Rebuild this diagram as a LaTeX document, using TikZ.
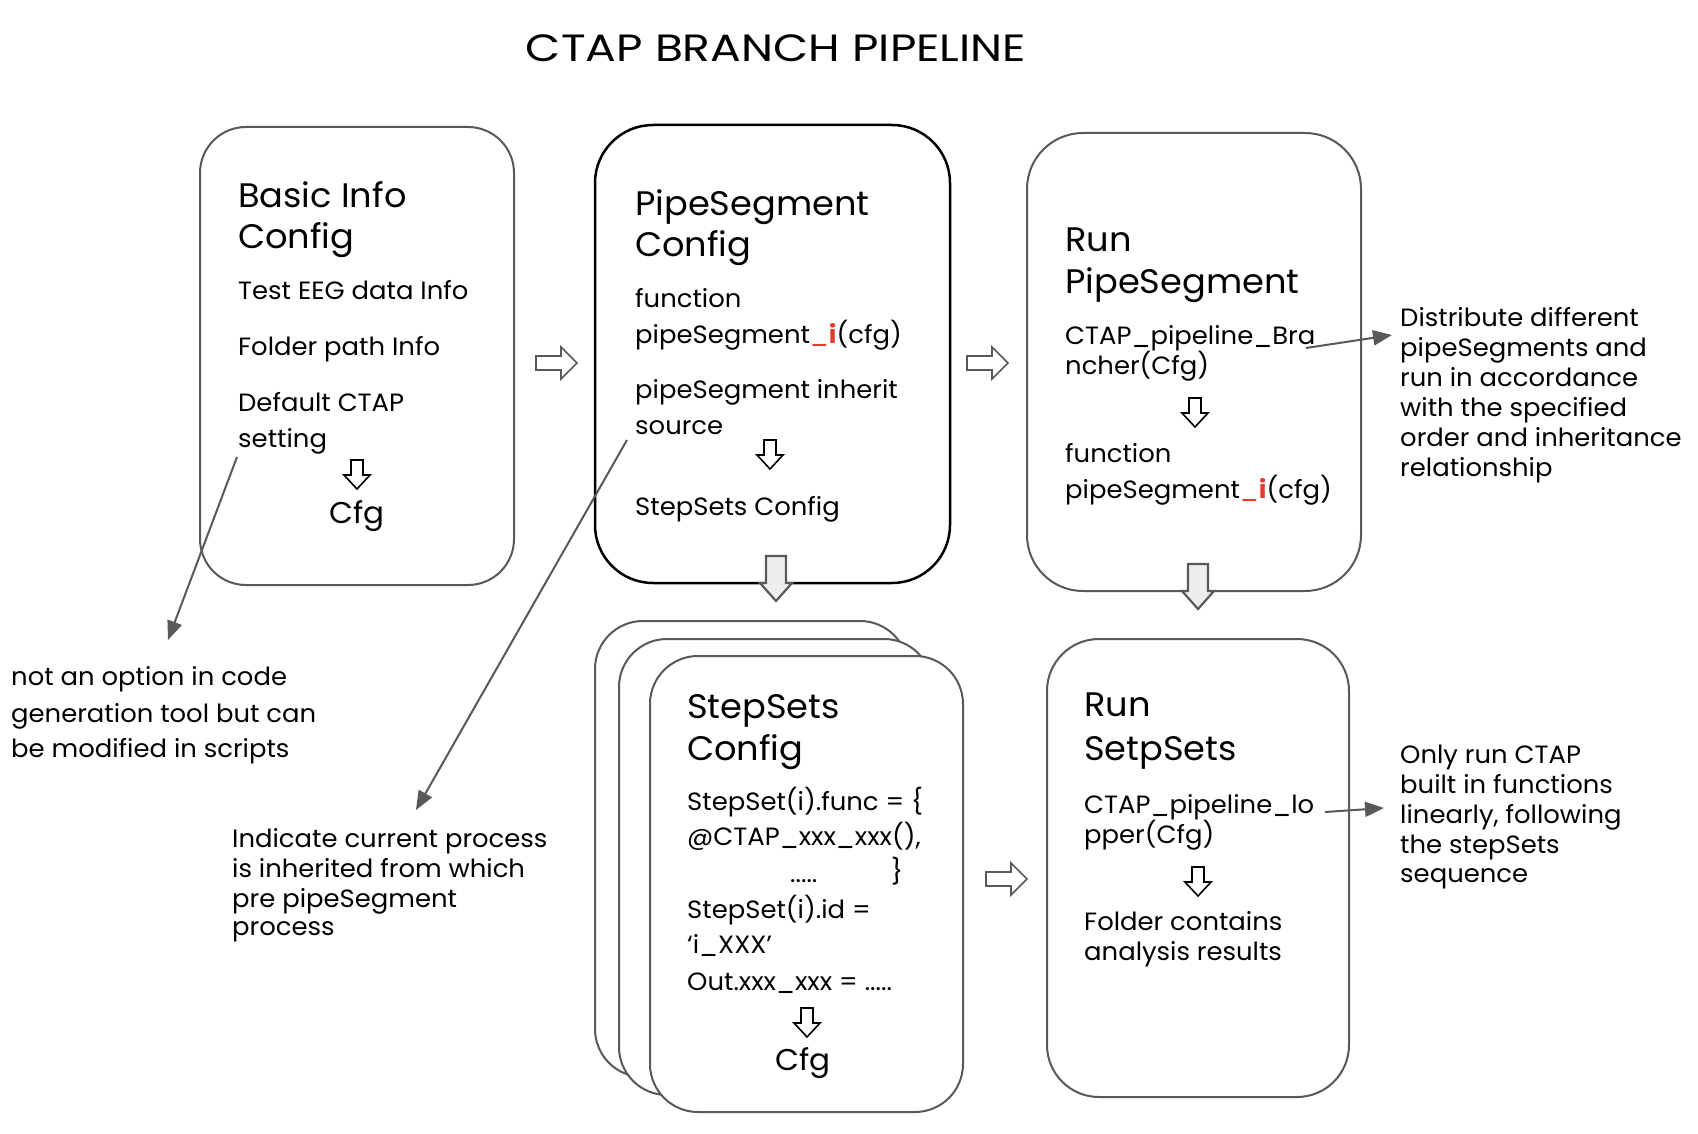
\documentclass[tikz,border=0pt]{standalone}
\usepackage{fontspec}
\setmainfont{Poppins}[FakeStretch=1.035]
\newfontfamily\titlefont{Poppins}[FakeStretch=1.2]
\usetikzlibrary{arrows.meta}
\definecolor{edgegray}{HTML}{595959}
\definecolor{redi}{HTML}{E53A2E}
\definecolor{blockfill}{HTML}{EEEEEE}
\newcommand{\redi}{\textcolor{redi}{\_\textbf{i}}}
\begin{document}
\begin{tikzpicture}[x=1pt,y=-1pt,
  gbox/.style={draw=edgegray, line width=2pt, fill=white, inner sep=0pt},
  kbox/.style={draw=black, line width=2.5pt, fill=white, inner sep=0pt},
  head/.style={font=\fontsize{34}{40}\selectfont, anchor=base west, inner sep=0pt},
  body/.style={font=\fontsize{25}{30}\selectfont, anchor=base west, inner sep=0pt},
  cfgtxt/.style={font=\fontsize{30}{36}\selectfont, anchor=base, inner sep=0pt},
  notearrow/.style={draw=edgegray, line width=2pt, -{Triangle[length=19pt,width=15pt]}},
  rarr/.pic={\draw[edgegray, line width=1.6pt, fill=white, line join=miter]
     (0,-7) -- (25,-7) -- (25,-16) -- (41,0) -- (25,16) -- (25,7) -- (0,7) -- cycle;},
  darr/.pic={\draw[black, line width=1.6pt, fill=white, line join=miter]
     (-6,0) -- (6,0) -- (6,15) -- (13,15) -- (0,29) -- (-13,15) -- (-6,15) -- cycle;},
  blockarr/.pic={\draw[edgegray, line width=2.2pt, fill=blockfill, line join=miter]
     (-10,0) -- (10,0) -- (10,27) -- (16,27) -- (0,45) -- (-16,27) -- (-10,27) -- cycle;}
]
\fill[white] (0,0) rectangle (1698,1134);
\useasboundingbox (0,0) rectangle (1698,1134);

% title
\node[font=\titlefont\fontsize{38}{44}\selectfont, anchor=base, inner sep=0pt] (title) at (776,62) {CTAP BRANCH PIPELINE};

% boxes
\node[gbox, rounded corners=46pt, minimum width=314pt, minimum height=458pt] (b1) at (357,356) {};
\node[kbox, rounded corners=58pt, minimum width=355pt, minimum height=458pt] (b2) at (772.5,354) {};
\node[gbox, rounded corners=56pt, minimum width=334pt, minimum height=458pt] (b3) at (1194,362) {};
\node[gbox, rounded corners=52pt, minimum width=302pt, minimum height=458pt] (b5) at (1198,868) {};
\node[gbox, rounded corners=48pt, minimum width=313pt, minimum height=456pt] (s1) at (751.5,849) {};
\node[gbox, rounded corners=48pt, minimum width=313pt, minimum height=456pt] (s2) at (775.5,867) {};
\node[gbox, rounded corners=48pt, minimum width=313pt, minimum height=456pt] (s3) at (806.5,884) {};

% block arrows between rows
\pic at (776,556) {blockarr};
\pic at (1198,564) {blockarr};

% hollow right arrows
\pic at (536,363) {rarr};
\pic at (967,363) {rarr};
\pic at (986,879) {rarr};

% box 1
\node[head] (b1h1) at (238,208) {Basic Info};
\node[head] (b1h2) at (238,249) {Config};
\node[body] (b1t1) at (238,299) {Test EEG data Info};
\node[body] (b1t2) at (238,355) {Folder path Info};
\node[body] (b1t3) at (238,411) {Default CTAP};
\node[body] (b1t4) at (238,447) {setting};
\pic at (357,460) {darr};
\node[cfgtxt] (b1cfg) at (357,523) {Cfg};

% box 2
\node[head] (b2h1) at (635,216) {PipeSegment};
\node[head] (b2h2) at (635,257) {Config};
\node[body] (b2t1) at (635,307) {function};
\node[body] (b2t2) at (635,343) {pipeSegment\redi(cfg)};
\node[body] (b2t3) at (635,398) {pipeSegment inherit};
\node[body] (b2t4) at (635,434) {source};
\pic at (770,440) {darr};
\node[body] (b2t5) at (635,515) {StepSets Config};

% box 3
\node[head] (b3h1) at (1065,252) {Run};
\node[head] (b3h2) at (1065,293) {PipeSegment};
\node[body] (b3t1) at (1065,344) {CTAP\_pipeline\_Bra};
\node[body] (b3t2) at (1065,374) {ncher(Cfg)};
\pic at (1195,398) {darr};
\node[body] (b3t3) at (1065,462) {function};
\node[body] (b3t4) at (1065,498) {pipeSegment\redi(cfg)};

% stepsets
\node[head] (s3h1) at (687,718) {StepSets};
\node[head] (s3h2) at (687,760) {Config};
\node[body] (s3t1) at (687,810) {StepSet(i).func = \{};
\node[body] (s3t2) at (687,845) {@CTAP\_xxx\_xxx(),};
\node[body] (s3t3) at (790,882) {.....};
\node[body] (s3t4) at (891,880) {\}};
\node[body] (s3t5) at (687,918) {StepSet(i).id =};
\node[body] (s3t6) at (687,953) {‘i\_XXX’};
\node[body] (s3t7) at (687,990) {Out.xxx\_xxx = .....};
\pic at (807,1008) {darr};
\node[cfgtxt] (s3cfg) at (803,1070) {Cfg};

% box 5
\node[head] (b5h1) at (1084,716) {Run};
\node[head] (b5h2) at (1084,760) {SetpSets};
\node[body] (b5t1) at (1084,813) {CTAP\_pipeline\_lo};
\node[body] (b5t2) at (1084,843) {pper(Cfg)};
\pic at (1198,867) {darr};
\node[body] (b5t3) at (1084,930) {Folder contains};
\node[body] (b5t4) at (1084,960) {analysis results};

% notes
\node[body] (n1a) at (11,685) {not an option in code};
\node[body] (n1b) at (11,722) {generation tool but can};
\node[body] (n1c) at (11,757) {be modified in scripts};

\node[body] (n2a) at (232,847) {Indicate current process};
\node[body] (n2b) at (232,877) {is inherited from which};
\node[body] (n2c) at (232,907) {pre pipeSegment};
\node[body] (n2d) at (232,935) {process};

\node[body] (n3a) at (1400,326) {Distribute different};
\node[body] (n3b) at (1400,356) {pipeSegments and};
\node[body] (n3c) at (1400,386) {run in accordance};
\node[body] (n3d) at (1400,416) {with the specified};
\node[body] (n3e) at (1400,446) {order and inheritance};
\node[body] (n3f) at (1400,476) {relationship};

\node[body] (n4a) at (1400,763) {Only run CTAP};
\node[body] (n4b) at (1400,793) {built in functions};
\node[body] (n4c) at (1400,823) {linearly, following};
\node[body] (n4d) at (1400,853) {the stepSets};
\node[body] (n4e) at (1400,882) {sequence};

% annotation connectors
\coordinate (c1s) at (237,457);
\coordinate (c1e) at (168,640);
\coordinate (c2s) at (627,440);
\coordinate (c2e) at (416,810);
\coordinate (c3s) at (1306,348);
\coordinate (c3e) at (1392,335);
\coordinate (c4s) at (1325,812);
\coordinate (c4e) at (1384,808);
\draw[notearrow] (c1s) -- (c1e);
\draw[notearrow] (c2s) -- (c2e);
\draw[notearrow] (c3s) -- (c3e);
\draw[notearrow] (c4s) -- (c4e);
\end{tikzpicture}
\end{document}
